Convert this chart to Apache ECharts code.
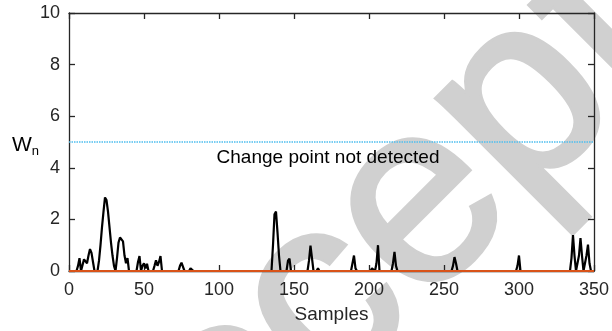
<!DOCTYPE html>
<html>
<head>
<meta charset="utf-8">
<script src="https://cdn.jsdelivr.net/npm/echarts@6/dist/echarts.min.js"></script>
<style>
  html, body { margin: 0; padding: 0; background: #fff; }
  #chart { width: 612px; height: 331px; }
</style>
</head>
<body>
<div id="chart"></div>
<script>
// W_n statistic as [sample, value] vertices
const wn = [
  [0, 0], [5, 0], [6, 0.2], [7, 0.5], [8, 0], [9, 0], [10, 0.45], [11, 0.5], [12, 0.3],
  [13, 0.6], [14, 0.85], [15, 0.7], [16, 0.35], [17, 0], [19, 0], [20, 0.4], [21, 1.0],
  [22, 1.7], [23, 2.3], [24, 2.85], [25, 2.75], [26, 2.3], [27, 1.7], [28, 1.1], [29, 0.6],
  [30, 0.2], [31, 0], [32, 0.5], [33, 1.1], [34, 1.3], [35, 1.28], [36, 1.15], [37, 0.6],
  [38, 0.3], [39, 0.5], [40, 0], [45, 0], [46, 0.35], [47, 0.58], [48, 0], [49, 0.2],
  [50, 0.3], [51, 0.1], [52, 0.28], [53, 0], [56, 0], [57, 0.2], [58, 0.42], [59, 0.2],
  [60, 0.35], [61, 0.58], [62, 0], [73, 0], [74, 0.2], [75, 0.32], [76, 0.25], [77, 0],
  [80, 0], [81, 0.1], [82, 0.05], [83, 0], [135, 0], [136, 1.0], [137, 2.2], [138, 2.3],
  [139, 1.5], [140, 0.6], [141, 0], [145, 0], [146, 0.4], [147, 0.48], [148, 0], [159, 0],
  [160, 0.4], [161, 0.98], [162, 0.5], [163, 0], [165, 0], [166, 0.1], [167, 0], [188, 0],
  [189, 0.3], [190, 0.6], [191, 0.1], [192, 0], [201, 0], [202, 0.1], [203, 0.15], [204, 0],
  [205, 0.3], [206, 1.0], [207, 0], [215, 0], [216, 0.3], [217, 0.74], [218, 0.2], [219, 0],
  [255, 0], [256, 0.2], [257, 0.54], [258, 0.3], [259, 0], [298, 0], [299, 0.2], [300, 0.6],
  [301, 0], [334, 0], [335, 0.5], [336, 1.39], [337, 0.6], [338, 0], [339, 0], [340, 0.6],
  [341, 1.28], [342, 0.6], [343, 0], [344, 0], [345, 0.6], [346, 1.02], [347, 0.3], [348, 0],
  [350, 0]
]
const threshold = [[0, 5], [350, 5]]
const zeroLine = [[0, 0], [350, 0]]

const xTicks = { min: 0, max: 350, interval: 50 }
const yTicks = { min: 0, max: 10, interval: 2 }

const font = 'Liberation Sans, Arial, sans-serif'
const ink = '#262626'

const chart = echarts.init(document.getElementById('chart'))

const axisBase = {
  axisLine: { show: true, onZero: false, lineStyle: { color: ink, width: 1.3 } },
  axisTick: { show: true, inside: true, length: 6, lineStyle: { color: ink, width: 1.3 } },
  splitLine: { show: false },
}

const option = {
  backgroundColor: '#fff',
  animation: false,
  grid: { left: 69, right: 13, top: 13, bottom: 60 },
  xAxis: [
    {
      type: 'value', ...xTicks, position: 'bottom', ...axisBase,
      axisLabel: { color: ink, fontSize: 18, fontFamily: font, margin: 10 },
      name: 'Samples', nameLocation: 'middle', nameGap: 34,
      nameTextStyle: { color: ink, fontSize: 19, fontFamily: font },
    },
    {
      type: 'value', ...xTicks, position: 'top', ...axisBase,
      axisLabel: { show: false },
    },
  ],
  yAxis: [
    {
      type: 'value', ...yTicks, position: 'left', ...axisBase,
      axisLabel: { color: ink, fontSize: 18, fontFamily: font, margin: 9 },
    },
    {
      type: 'value', ...yTicks, position: 'right', ...axisBase,
      axisLabel: { show: false },
    },
  ],
  graphic: [
    {
      // watermark
      type: 'text', z: -10, silent: true,
      x: 446, y: 182, rotation: 45 * Math.PI / 180,
      style: {
        text: 'Accepted', fill: '#d0d0d0', stroke: '#d0d0d0', lineWidth: 5,
        font: '260px ' + font, textAlign: 'center', textVerticalAlign: 'middle',
      },
    },
    {
      type: 'text', x: 328, y: 158,
      style: {
        text: 'Change point not detected', fill: '#000', font: '19px ' + font,
        textAlign: 'center', textVerticalAlign: 'middle',
      },
    },
    {
      type: 'text', x: 12, y: 145,
      style: {
        text: '{w|W}{n|n}', textVerticalAlign: 'middle',
        rich: {
          w: { fontSize: 21, fontFamily: font, fill: '#000' },
          n: { fontSize: 13, fontFamily: font, fill: '#000', padding: [12, 0, 0, 0] },
        },
      },
    },
  ],
  series: [
    {
      name: 'threshold', type: 'line', data: threshold, symbol: 'none', z: 3,
      lineStyle: { color: '#4DBEEE', width: 1.5, type: [1.5, 1] },
    },
    {
      name: 'Wn', type: 'line', data: wn, symbol: 'none', z: 4,
      lineStyle: { color: '#000', width: 2.2 },
    },
    {
      name: 'zero', type: 'line', data: zeroLine, symbol: 'none', z: 5,
      lineStyle: { color: '#D95319', width: 2 },
    },
  ],
}

chart.setOption(option)
</script>
</body>
</html>
